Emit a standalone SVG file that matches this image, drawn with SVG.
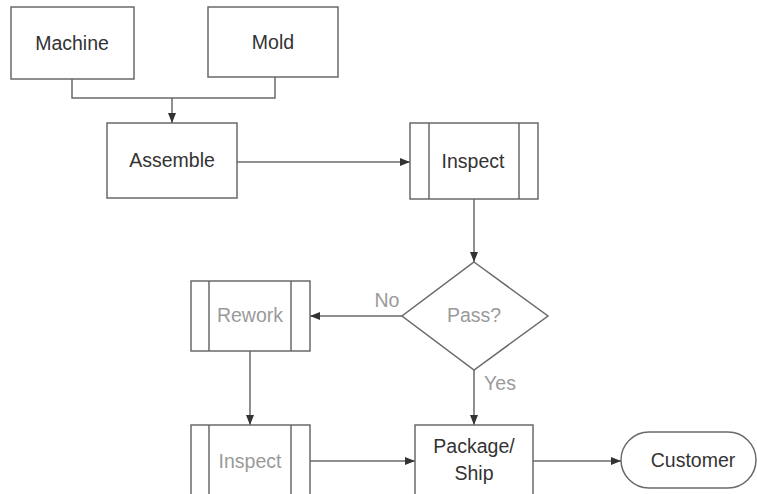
<svg xmlns="http://www.w3.org/2000/svg" width="757" height="494" viewBox="0 0 757 494">
<style>
.box{fill:#fff;stroke:#6a6a6a;stroke-width:1.5}
.ln{fill:none;stroke:#6a6a6a;stroke-width:1.5}
.t{font-family:"Liberation Sans",Arial,sans-serif;font-size:19.5px;text-anchor:middle;fill:#333}
.g{fill:#9a9a9a}
</style>
<defs>
<marker id="ar" viewBox="0 0 10 8" refX="10" refY="4" markerWidth="10" markerHeight="8" markerUnits="userSpaceOnUse" orient="auto">
<path d="M0,0 L10,4 L0,8 z" fill="#333"/>
</marker>
</defs>
<rect width="757" height="494" fill="#fff"/>
<g id="connectors">
<path class="ln" d="M72,79 V98 H275 V77"/>
<path class="ln" d="M172,98 V123" marker-end="url(#ar)"/>
<path class="ln" d="M237,162 H410" marker-end="url(#ar)"/>
<path class="ln" d="M474,199 V262" marker-end="url(#ar)"/>
<path class="ln" d="M402,316 H310" marker-end="url(#ar)"/>
<path class="ln" d="M474,370 V425" marker-end="url(#ar)"/>
<path class="ln" d="M250,351 V425" marker-end="url(#ar)"/>
<path class="ln" d="M310,461 H415" marker-end="url(#ar)"/>
<path class="ln" d="M533,461 H621" marker-end="url(#ar)"/>
<text class="t g" x="387" y="307">No</text>
<text class="t g" x="500" y="390">Yes</text>
</g>
<g id="machine">
<rect class="box" x="11" y="7" width="123" height="72"/>
<text class="t" x="72" y="50">Machine</text>
</g>
<g id="mold">
<rect class="box" x="208" y="7" width="130" height="70"/>
<text class="t" x="273" y="49">Mold</text>
</g>
<g id="assemble">
<rect class="box" x="107" y="123" width="130" height="75"/>
<text class="t" x="172" y="167">Assemble</text>
</g>
<g id="inspect1">
<rect class="box" x="410" y="123" width="128" height="76"/>
<path class="ln" d="M429,123 V199 M519,123 V199"/>
<text class="t" x="473" y="168">Inspect</text>
</g>
<g id="pass">
<polygon class="box" points="474,262 548,316 474,370 402,316"/>
<text class="t g" x="474" y="322">Pass?</text>
</g>
<g id="rework">
<rect class="box" x="191" y="281" width="119" height="70"/>
<path class="ln" d="M209,281 V351 M291,281 V351"/>
<text class="t g" x="250" y="322">Rework</text>
</g>
<g id="inspect2">
<rect class="box" x="191" y="425" width="119" height="80"/>
<path class="ln" d="M209,425 V505 M291,425 V505"/>
<text class="t g" x="250" y="468">Inspect</text>
</g>
<g id="package">
<rect class="box" x="415" y="425" width="118" height="80"/>
<text class="t" x="474" y="453">Package/</text>
<text class="t" x="474" y="480">Ship</text>
</g>
<g id="customer">
<rect class="box" x="621" y="432" width="135" height="56" rx="28" ry="28"/>
<text class="t" x="693" y="467">Customer</text>
</g>
</svg>
